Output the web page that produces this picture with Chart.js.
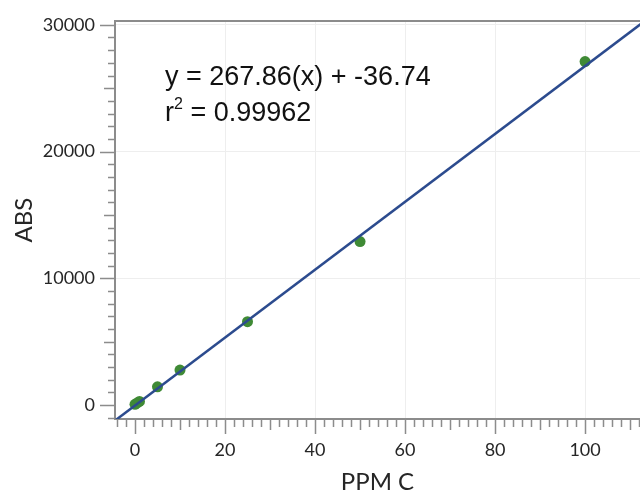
<!DOCTYPE html>
<html>
<head>
<meta charset="utf-8">
<script src="https://cdn.jsdelivr.net/npm/chart.js@4/dist/chart.umd.min.js"></script>
<style>
  html, body { margin: 0; padding: 0; background: #fff; overflow: hidden; }
  #wrap { width: 640px; height: 494px; position: relative; }
</style>
</head>
<body>
<div id="wrap"><canvas id="cal"></canvas></div>
<script>
// calibration standards (ppm C) and measured absorbance
const ppm = [0, 0.5, 1, 5, 10, 25, 50, 100];
const abs = [60, 170, 290, 1440, 2760, 6580, 12900, 27100];

const fitPpm = [-4.5, 112.5];
const fitAbs = [-1242, 30097];

const eqText = 'y = 267.86(x) + -36.74';
const r2Text = '0.99962';

// tick marks: every 2 ppm / every 1000 ABS, labelled every 20 / 10000
const xTickVals = [];
for (let v = -4; v <= 112; v += 2) xTickVals.push(v);
const yTickVals = [];
for (let v = -1000; v <= 30000; v += 1000) yTickVals.push(v);

const axisGrey = '#8c8c8c';
const labelCol = '#262626';

function isMult(v, m) {
  const r = Math.round(v);
  return Math.abs(v - r) < 1e-6 && r % m === 0;
}

// keep the plot box where it is: no extra room for overhanging labels
function fixBox(s, w, h) {
  if (w) s.width = w;
  if (h) s.height = h;
  s.paddingTop = 0;
  s.paddingBottom = 0;
  s.paddingLeft = 0;
  s.paddingRight = 0;
}

// top frame line, minor/major tick marks, equation text
const extras = {
  id: 'extras',
  afterDraw(chart) {
    const c = chart.ctx;
    const a = chart.chartArea;
    const xs = chart.scales.x;
    const ys = chart.scales.y;
    c.save();
    c.strokeStyle = axisGrey;
    c.lineWidth = 2;
    c.beginPath();
    c.moveTo(a.left - 1, a.top);
    c.lineTo(a.right + 1, a.top);
    c.stroke();

    c.lineWidth = 1.5;
    c.beginPath();
    ys.ticks.forEach(t => {
      const len = isMult(t.value, 10000) ? 15 : isMult(t.value, 5000) ? 11 : 7;
      const py = Math.round(ys.getPixelForValue(t.value)) + 0.5;
      c.moveTo(a.left, py);
      c.lineTo(a.left - len, py);
    });
    xs.ticks.forEach(t => {
      const len = isMult(t.value, 20) ? 15 : isMult(t.value, 10) ? 11 : 8;
      const px = Math.round(xs.getPixelForValue(t.value)) + 0.5;
      c.moveTo(px, a.bottom);
      c.lineTo(px, a.bottom + len);
    });
    c.stroke();

    c.fillStyle = '#111';
    c.textBaseline = 'alphabetic';
    c.font = '27px "Liberation Sans", Arial, sans-serif';
    c.fillText(eqText, 165, 85);
    c.fillText('r', 165, 121);
    const rw = c.measureText('r').width;
    c.font = '16px "Liberation Sans", Arial, sans-serif';
    c.fillText('2', 165 + rw, 109);
    const sw = c.measureText('2').width;
    c.font = '27px "Liberation Sans", Arial, sans-serif';
    c.fillText(' = ' + r2Text, 165 + rw + sw, 121);
    c.restore();
  }
};

new Chart(document.getElementById('cal'), {
  type: 'scatter',
  data: {
    datasets: [
      {
        type: 'line',
        data: fitPpm.map((x, i) => ({ x: x, y: fitAbs[i] })),
        borderColor: '#2c4b8e',
        borderWidth: 2.5,
        pointRadius: 0,
        pointHoverRadius: 0,
        fill: false,
        order: 0
      },
      {
        data: ppm.map((x, i) => ({ x: x, y: abs[i] })),
        backgroundColor: '#3f8a35',
        borderWidth: 0,
        pointRadius: 5.5,
        pointHoverRadius: 5.5,
        order: 1
      }
    ]
  },
  plugins: [extras],
  options: {
    responsive: true,
    maintainAspectRatio: false,
    animation: false,
    devicePixelRatio: 1,
    layout: { autoPadding: false, padding: { top: 21, right: 0, left: 0, bottom: 0 } },
    plugins: { legend: { display: false }, tooltip: { enabled: false } },
    scales: {
      x: {
        type: 'linear',
        min: -4.44,
        max: 112.2,
        afterBuildTicks: s => { s.ticks = xTickVals.map(v => ({ value: v })); },
        afterFit: s => fixBox(s, 0, 75),
        border: { color: axisGrey, width: 2 },
        grid: {
          drawTicks: false,
          color: ctx => (ctx.tick && isMult(ctx.tick.value, 20) && ctx.tick.value !== 0) ? '#eeeeee' : 'rgba(0,0,0,0)'
        },
        ticks: {
          autoSkip: false,
          maxRotation: 0,
          padding: 20,
          color: labelCol,
          font: { family: 'Lato', size: 18 },
          callback: v => isMult(v, 20) ? String(Math.round(v)) : ''
        },
        title: {
          display: true,
          text: 'PPM C',
          color: labelCol,
          font: { family: 'Lato', size: 24, lineHeight: 1 },
          padding: { top: 0, bottom: 0 }
        }
      },
      y: {
        type: 'linear',
        min: -1100,
        max: 30300,
        afterBuildTicks: s => { s.ticks = yTickVals.map(v => ({ value: v })); },
        afterFit: s => fixBox(s, 115, 0),
        border: { color: axisGrey, width: 2 },
        grid: {
          drawTicks: false,
          color: ctx => (ctx.tick && isMult(ctx.tick.value, 10000) && ctx.tick.value !== 0) ? '#eeeeee' : 'rgba(0,0,0,0)'
        },
        ticks: {
          autoSkip: false,
          padding: 20,
          color: labelCol,
          font: { family: 'Lato', size: 18 },
          callback: v => isMult(v, 10000) ? String(Math.round(v)) : ''
        },
        title: {
          display: true,
          text: 'ABS',
          color: labelCol,
          font: { family: 'Lato', size: 24, lineHeight: 1 },
          padding: { top: 12, bottom: 0 }
        }
      }
    }
  }
});
</script>
</body>
</html>
